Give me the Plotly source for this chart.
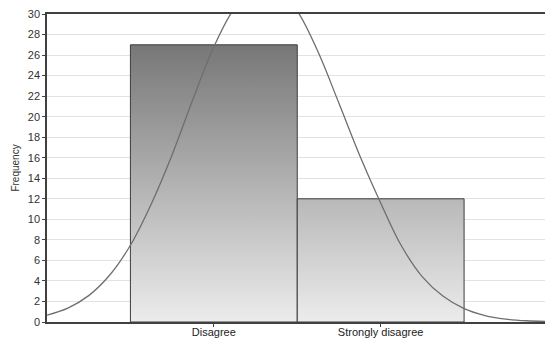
import plotly.graph_objects as go

categories = ["Disagree", "Strongly disagree"]
cat_pos = [1, 2]
frequencies = [27, 12]

# Fitted normal curve (x in category units, y = frequency)
curve_x = [0.0, 0.125, 0.25, 0.375, 0.5, 0.625, 0.75, 0.875, 1.0, 1.125, 1.25, 1.375,
           1.5, 1.625, 1.75, 1.875, 2.0, 2.125, 2.25, 2.375, 2.5, 2.625, 2.75, 2.875, 3.0]
curve_y = [0.67, 1.36, 2.57, 4.55, 7.48, 11.5, 16.3, 21.7, 26.8, 30.6, 32.6, 32.6,
           30.3, 26.3, 21.3, 16.2, 11.6, 7.4, 4.4, 2.5, 1.3, 0.63, 0.29, 0.12, 0.05]

y_ticks = list(range(0, 31, 2))

fig = go.Figure()

gmax = max(frequencies)
for pos, val in zip(cat_pos, frequencies):
    x0, x1 = pos - 0.5, pos + 0.5
    fig.add_trace(go.Scatter(
        x=[x0, x1, x1, x0, x0], y=[0, 0, val, val, 0],
        mode="lines", fill="toself",
        line=dict(color="#3c3c3c", width=1),
        fillgradient=dict(type="vertical", start=0, stop=gmax,
                          colorscale=[[0, "#ececec"], [1, "#777777"]]),
        hoverinfo="skip", showlegend=False,
    ))

fig.add_trace(go.Scatter(
    x=curve_x, y=curve_y, mode="lines",
    line=dict(color="#6e6e6e", width=1.3, shape="spline"),
    showlegend=False,
))

fig.update_layout(
    width=545, height=340,
    margin=dict(l=47, r=0, t=14, b=18, autoexpand=False),
    paper_bgcolor="white", plot_bgcolor="white",
    font=dict(family="Liberation Sans, Arial, sans-serif", size=11, color="#333333"),
    xaxis=dict(
        range=[0, 2.985], tickmode="array", tickvals=cat_pos, ticktext=categories,
        showgrid=False, zeroline=False, showline=True, linecolor="#404040",
        linewidth=1.5, mirror=True, ticks="outside", ticklen=3, tickcolor="#404040",
        tickfont=dict(size=11, color="#222222"), automargin=False,
        ticklabelstandoff=-4,
    ),
    yaxis=dict(
        range=[0, 30], tickmode="array", tickvals=y_ticks,
        showgrid=True, gridcolor="#e2e2e2", gridwidth=1, zeroline=False,
        showline=True, linecolor="#404040", linewidth=1.5,
        ticks="outside", ticklen=3, tickcolor="#404040",
        tickfont=dict(size=11, color="#333333"), automargin=False,
        title=dict(text="Frequency", font=dict(size=10, color="#333333"), standoff=6),
    ),
)

fig.write_html(
    "out.html",
    config={"displayModeBar": False},
    post_script="document.body.style.margin='0';document.body.style.overflow='hidden';",
)
